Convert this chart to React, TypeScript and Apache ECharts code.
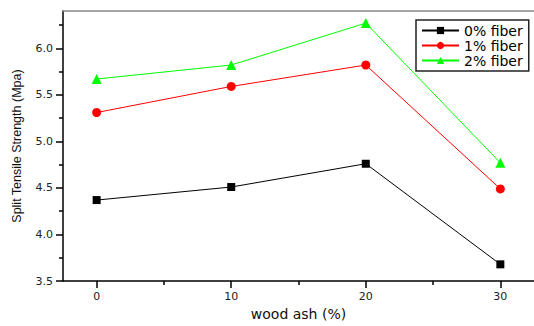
import React, { useEffect, useRef } from "react";
import * as echarts from "echarts";

const woodAsh = [0, 10, 20, 30];
const fiber0 = [4.37, 4.51, 4.76, 3.68];
const fiber1 = [5.31, 5.59, 5.82, 4.49];
const fiber2 = [5.67, 5.82, 6.27, 4.77];
const seriesNames = ["0% fiber", "1% fiber", "2% fiber"];
const xMajorTicks = [0, 10, 20, 30];
const xMinorTicks = [5, 15, 25];
const yMajorTicks = [3.5, 4.0, 4.5, 5.0, 5.5, 6.0];
const yMinorTicks = [3.75, 4.25, 4.75, 5.25, 5.75, 6.25];

const FONT = "DejaVu Sans";

export default function App() {
  const ref = useRef<HTMLDivElement>(null);
  useEffect(() => {
    if (!ref.current) return;
    const chart = echarts.init(ref.current, undefined, { renderer: "svg" });
    const pair = (vals: number[]) => woodAsh.map((x, i) => [x, vals[i]]);
    const baseX = { type: "value", min: -2.5, max: 32.5, splitLine: { show: false } };
    const baseY = { type: "value", min: 3.5, max: 6.4, splitLine: { show: false } };
    chart.setOption({
      animation: false,
      backgroundColor: "#ffffff",
      grid: { left: 63, top: 11, right: -2, bottom: 42 },
      legend: {
        data: seriesNames,
        orient: "vertical",
        left: 416,
        top: 20,
        padding: [3, 6, 3, 5],
        itemGap: 0,
        itemWidth: 37,
        itemHeight: 9,
        borderColor: "#222",
        borderWidth: 1.5,
        textStyle: { fontFamily: FONT, fontSize: 14, color: "#000", lineHeight: 15 },
      },
      xAxis: [
        {
          ...baseX,
          position: "bottom",
          name: "wood ash (%)",
          nameLocation: "middle",
          nameGap: 25,
          nameTextStyle: { fontFamily: FONT, fontSize: 14, color: "#111" },
          axisLine: { show: true, onZero: false, lineStyle: { color: "#000", width: 1.5 } },
          axisTick: { show: true, customValues: xMajorTicks, length: 7, lineStyle: { color: "#000", width: 1.5 } },
          axisLabel: { customValues: xMajorTicks, margin: 10, fontFamily: FONT, fontSize: 11, color: "#222" },
        },
        {
          ...baseX,
          position: "bottom",
          axisLine: { show: false, onZero: false },
          axisTick: { show: true, customValues: xMinorTicks, length: 4, lineStyle: { color: "#000", width: 1.5 } },
          axisLabel: { show: false },
        },
        {
          ...baseX,
          position: "top",
          axisLine: { show: true, onZero: false, lineStyle: { color: "#888", width: 1.5 } },
          axisTick: { show: false },
          axisLabel: { show: false },
        },
      ],
      yAxis: [
        {
          ...baseY,
          position: "left",
          name: "Split Tensile Strength (Mpa)",
          nameLocation: "middle",
          nameGap: 40,
          nameTextStyle: { fontFamily: "Liberation Sans", fontSize: 12.5, color: "#111" },
          axisLine: { show: true, onZero: false, lineStyle: { color: "#000", width: 1.5 } },
          axisTick: { show: true, customValues: yMajorTicks, length: 7, lineStyle: { color: "#000", width: 1.5 } },
          axisLabel: {
            customValues: yMajorTicks,
            margin: 10,
            fontFamily: FONT,
            fontSize: 11,
            color: "#222",
            formatter: (v: number) => v.toFixed(1),
          },
        },
        {
          ...baseY,
          position: "left",
          axisLine: { show: false, onZero: false },
          axisTick: { show: true, customValues: yMinorTicks, length: 4, lineStyle: { color: "#000", width: 1.5 } },
          axisLabel: { show: false },
        },
      ],
      series: [
        {
          name: seriesNames[0],
          type: "line",
          xAxisIndex: 0,
          yAxisIndex: 0,
          data: pair(fiber0),
          symbol: "rect",
          symbolSize: 8,
          lineStyle: { color: "#000", width: 1 },
          itemStyle: { color: "#000" },
        },
        {
          name: seriesNames[1],
          type: "line",
          xAxisIndex: 0,
          yAxisIndex: 0,
          data: pair(fiber1),
          symbol: "circle",
          symbolSize: 9,
          lineStyle: { color: "#ff0000", width: 1 },
          itemStyle: { color: "#ff0000" },
        },
        {
          name: seriesNames[2],
          type: "line",
          xAxisIndex: 0,
          yAxisIndex: 0,
          data: pair(fiber2),
          symbol: "triangle",
          symbolSize: 10,
          lineStyle: { color: "#00ff00", width: 1 },
          itemStyle: { color: "#00ff00" },
        },
      ],
    });
    return () => chart.dispose();
  }, []);
  return <div ref={ref} style={{ width: 534, height: 326, position: "absolute", left: 0, top: 0 }} />;
}
